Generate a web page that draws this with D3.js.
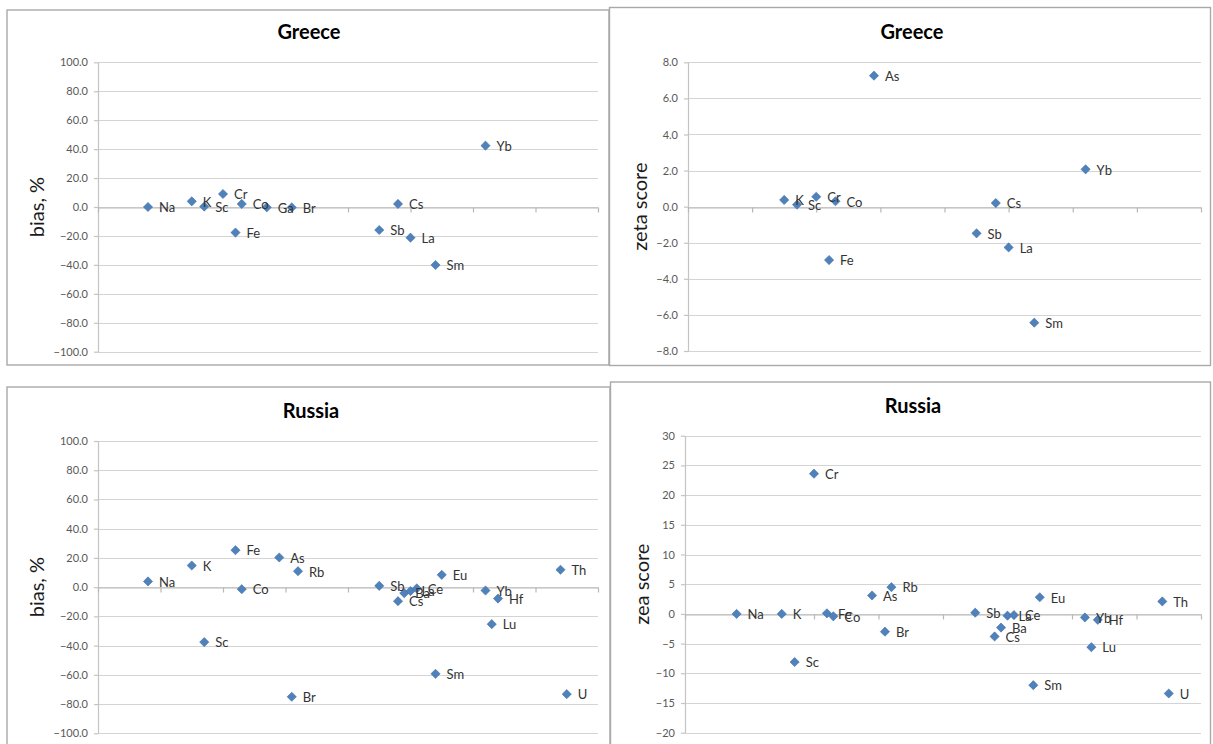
<!DOCTYPE html>
<html>
<head>
<meta charset="utf-8">
<script src="https://cdn.jsdelivr.net/npm/d3@7/dist/d3.min.js"></script>
<style>
  html, body { margin: 0; padding: 0; background: #fff; }
  svg { display: block; }
</style>
</head>
<body>
<svg id="chart" width="1213" height="744"></svg>
<script>
// ---------------- DATA ----------------
const xDomain = [0, 80];
const xTickValues = [0, 10, 20, 30, 40, 50, 60, 70, 80];

const greeceBiasElements = ["Na","K","Sc","Cr","Co","Fe","Ga","Br","Sb","Cs","La","Sm","Yb"];
const greeceBiasX        = [8, 15, 17, 20, 23, 22, 27, 31, 45, 48, 50, 54, 62];
const greeceBiasValues   = [0.0, 3.9, 0.3, 9.0, 2.1, -17.7, -0.2, -0.3, -15.9, 2.1, -21.2, -40.1, 42.4];

const greeceZetaElements = ["K","Sc","Cr","Co","Fe","As","Sb","Cs","La","Sm","Yb"];
const greeceZetaX        = [15, 17, 20, 23, 22, 29, 45, 48, 50, 54, 62];
const greeceZetaValues   = [0.37, 0.11, 0.55, 0.30, -2.96, 7.26, -1.48, 0.20, -2.26, -6.43, 2.07];

const russiaBiasElements = ["Na","K","Sc","Fe","Co","As","Br","Rb","Sb","Cs","Ba","La","Ce","Sm","Eu","Yb","Lu","Hf","Th","U"];
const russiaBiasX        = [8, 15, 17, 22, 23, 29, 31, 32, 45, 48, 49, 50, 51, 54, 55, 62, 63, 64, 74, 75];
const russiaBiasValues   = [3.9, 14.8, -37.6, 25.3, -1.4, 20.3, -75.0, 10.9, 0.9, -9.6, -4.1, -2.7, -0.9, -59.3, 8.4, -2.3, -25.3, -7.8, 11.9, -73.2];

const russiaZetaElements = ["Na","K","Sc","Cr","Fe","Co","As","Br","Rb","Sb","Cs","Ba","La","Ce","Sm","Eu","Yb","Lu","Hf","Th","U"];
const russiaZetaX        = [8, 15, 17, 20, 22, 23, 29, 31, 32, 45, 48, 49, 50, 51, 54, 55, 62, 63, 64, 74, 75];
const russiaZetaValues   = [0.0, 0.0, -8.1, 23.6, 0.1, -0.4, 3.1, -3.0, 4.5, 0.2, -3.8, -2.3, -0.3, -0.2, -12.0, 2.8, -0.6, -5.6, -1.0, 2.1, -13.4];

const biasTicks = [-100, -80, -60, -40, -20, 0, 20, 40, 60, 80, 100];
const zetaGreeceTicks = [-8, -6, -4, -2, 0, 2, 4, 6, 8];
const zetaRussiaTicks = [-20, -15, -10, -5, 0, 5, 10, 15, 20, 25, 30];

const titles = ["Greece", "Greece", "Russia", "Russia"];
const yTitles = ["bias, %", "zeta score", "bias, %", "zea score"];

// ---------------- LAYOUT ----------------
const panels = [
  { title: titles[0], yTitle: yTitles[0], els: greeceBiasElements, xs: greeceBiasX, vals: greeceBiasValues,
    ticks: biasTicks, fmt: d3.format(".1f"),
    box: [7, 10, 602, 355], plot: [98, 598, 62.3, 351.7], titleXY: [309, 34], yTitleX: 39 },
  { title: titles[1], yTitle: yTitles[1], els: greeceZetaElements, xs: greeceZetaX, vals: greeceZetaValues,
    ticks: zetaGreeceTicks, fmt: d3.format(".1f"),
    box: [609.5, 7.5, 601, 358], plot: [688, 1201, 62.3, 351], titleXY: [912, 34], yTitleX: 642 },
  { title: titles[2], yTitle: yTitles[2], els: russiaBiasElements, xs: russiaBiasX, vals: russiaBiasValues,
    ticks: biasTicks, fmt: d3.format(".1f"),
    box: [7, 387, 603, 380], plot: [98, 598, 441, 733.3], titleXY: [311, 413], yTitleX: 39 },
  { title: titles[3], yTitle: yTitles[3], els: russiaZetaElements, xs: russiaZetaX, vals: russiaZetaValues,
    ticks: zetaRussiaTicks, fmt: d3.format("d"),
    box: [610.5, 382, 600, 380], plot: [685, 1201, 435.7, 732.7], titleXY: [913, 408], yTitleX: 644 }
];

const svg = d3.select("#chart");
const FONT = "Lato, 'Open Sans', sans-serif";

function diamond(r) {
  return `M0,${-r}L${r},0L0,${r}L${-r},0Z`;
}

panels.forEach(p => {
  const g = svg.append("g");
  const [bx, by, bw, bh] = p.box;
  g.append("rect")
    .attr("x", bx).attr("y", by).attr("width", bw).attr("height", bh)
    .attr("fill", "#fff").attr("stroke", "#a9a9a9").attr("stroke-width", 1.4);

  const [left, right, top, bottom] = p.plot;
  const x = d3.scaleLinear().domain(xDomain).range([left, right]);
  const y = d3.scaleLinear().domain([p.ticks[0], p.ticks[p.ticks.length - 1]]).range([bottom, top]);

  // gridlines
  g.append("g").selectAll("line").data(p.ticks).join("line")
    .attr("x1", left).attr("x2", right)
    .attr("y1", d => Math.round(y(d)) + 0.5).attr("y2", d => Math.round(y(d)) + 0.5)
    .attr("stroke", "#d4d4d4").attr("stroke-width", 1.2);

  // y axis
  const yAxis = g.append("g").attr("transform", `translate(${left},0)`)
    .call(d3.axisLeft(y).tickValues(p.ticks).tickFormat(p.fmt).tickSize(4).tickSizeOuter(0).tickPadding(6));
  yAxis.select(".domain").attr("stroke", "#c4c4c4").attr("stroke-width", 1.2);
  yAxis.selectAll(".tick line").attr("stroke", "#c4c4c4").attr("stroke-width", 1.2);
  yAxis.selectAll(".tick text").attr("fill", "#595959").style("font-family", FONT).style("font-size", "11px");

  // x axis at y = 0
  const xAxis = g.append("g").attr("transform", `translate(0,${Math.round(y(0)) + 0.5})`)
    .call(d3.axisBottom(x).tickValues(xTickValues).tickFormat("").tickSize(5).tickSizeOuter(0));
  xAxis.select(".domain").attr("stroke", "#b8b8b8").attr("stroke-width", 1.2);
  xAxis.selectAll(".tick line").attr("stroke", "#b8b8b8").attr("stroke-width", 1.2);

  // title
  g.append("text")
    .attr("x", p.titleXY[0]).attr("y", p.titleXY[1])
    .attr("text-anchor", "middle").attr("dominant-baseline", "middle")
    .style("font-family", FONT).style("font-size", "20px").style("font-weight", "bold")
    .attr("fill", "#000").text(p.title);

  // y title
  const cy = (top + bottom) / 2;
  g.append("text")
    .attr("transform", `translate(${p.yTitleX},${cy}) rotate(-90)`)
    .attr("text-anchor", "middle").attr("dominant-baseline", "middle")
    .style("font-family", FONT).style("font-size", "20px")
    .attr("fill", "#1a1a1a").text(p.yTitle);

  const data = p.els.map((e, i) => ({ e, x: p.xs[i], v: p.vals[i] }));

  // markers
  g.append("g").selectAll("path").data(data).join("path")
    .attr("transform", d => `translate(${x(d.x)},${y(d.v)})`)
    .attr("d", diamond(4.6))
    .attr("fill", "#4f81bd").attr("stroke", "#41709f").attr("stroke-width", 0.6);

  // labels
  g.append("g").selectAll("text").data(data).join("text")
    .attr("x", d => x(d.x) + 11)
    .attr("y", d => y(d.v) + 2)
    .attr("dominant-baseline", "middle")
    .style("font-family", FONT).style("font-size", "13px")
    .attr("fill", "#333").text(d => d.e);
});
</script>
</body>
</html>
